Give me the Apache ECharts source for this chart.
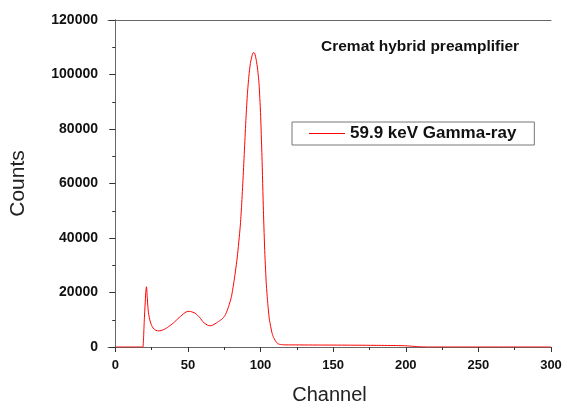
<!DOCTYPE html>
<html>
<head>
<meta charset="utf-8">
<script src="https://cdn.jsdelivr.net/npm/echarts@6/dist/echarts.min.js"></script>
<style>
  html, body { margin: 0; padding: 0; background: #fff; }
  #chart { width: 562px; height: 403px; }
</style>
</head>
<body>
<div id="chart"></div>
<script>
const channels = [0, 18, 19, 20, 21, 21.5, 22, 22.5, 23, 24, 25, 26, 28, 30, 33, 36, 40, 44, 48, 50, 52, 55, 58, 61, 64, 66, 68, 71, 74, 76, 78, 80, 82, 84, 86, 87, 88, 89, 90, 91, 92, 93, 94, 95, 96, 97, 98, 99, 100, 101, 102, 103, 104, 105, 106, 107, 108, 109, 110, 111, 112, 113, 116, 120, 140, 160, 180, 195, 200, 205, 210, 215, 300]
const counts = [0, 0, 0, 10000, 20000, 22100, 18500, 14500, 12000, 9500, 8000, 7000, 6100, 5900, 6300, 7200, 8800, 10800, 12600, 13100, 13000, 12400, 10900, 8900, 7900, 7800, 8300, 9300, 10500, 12000, 14800, 18500, 25000, 33000, 44000, 52000, 62000, 73000, 84000, 93000, 99500, 104000, 106500, 108000, 107800, 105500, 102000, 96500, 86000, 70000, 50000, 34000, 23000, 16000, 10500, 7500, 5000, 3500, 2500, 1700, 1200, 1000, 800, 780, 720, 680, 600, 520, 450, 250, 80, 0, 0]
const xMajor = [0, 50, 100, 150, 200, 250, 300]
const xMinor = [25, 75, 125, 175, 225, 275]
const seriesName = '59.9 keV Gamma-ray'
const note = 'Cremat hybrid preamplifier'

const font = 'Liberation Sans, Arial, sans-serif'
const axisGray = '#666'

const chart = echarts.init(document.getElementById('chart'))
chart.setOption({
  animation: false,
  textStyle: { fontFamily: font },
  grid: { left: 108, top: 20, right: 11, bottom: 56, outerBoundsMode: 'none', containLabel: false },
  title: {
    text: note,
    left: 321, top: 39,
    padding: 0,
    textStyle: { fontSize: 15.5, fontWeight: 'bold', color: '#111', fontFamily: font }
  },
  legend: {
    data: [seriesName],
    left: 292, top: 122,
    padding: [3, 18, 3, 17],
    borderColor: '#777', borderWidth: 1,
    icon: 'rect', itemWidth: 36, itemHeight: 1,
    textStyle: { fontSize: 17, fontWeight: 'bold', color: '#111', fontFamily: font }
  },
  xAxis: [
    {
      type: 'value', min: -5, max: 300,
      name: 'Channel', nameLocation: 'middle', nameGap: 38,
      nameTextStyle: { fontSize: 20, color: '#222', fontFamily: font },
      axisLine: { lineStyle: { color: axisGray, width: 1 } },
      axisTick: { show: true, length: 5, customValues: xMajor, lineStyle: { color: '#333' } },
      axisLabel: { customValues: xMajor, margin: 12, fontSize: 13, fontWeight: 'bold', color: '#111' },
      splitLine: { show: false }
    },
    {
      type: 'value', min: -5, max: 300, position: 'bottom',
      axisLine: { show: false },
      axisTick: { show: true, length: 3, customValues: xMinor, lineStyle: { color: '#333' } },
      axisLabel: { show: false, customValues: xMinor },
      splitLine: { show: false }
    },
    {
      type: 'value', min: -5, max: 300, position: 'top',
      axisLine: { lineStyle: { color: axisGray, width: 1 } },
      axisTick: { show: false }, axisLabel: { show: false }, splitLine: { show: false }
    }
  ],
  yAxis: [
    {
      type: 'value', min: 0, max: 120000, interval: 20000,
      name: 'Counts', nameLocation: 'middle', nameGap: 79,
      nameTextStyle: { fontSize: 21, color: '#222', fontFamily: font },
      axisLine: { show: true, lineStyle: { color: axisGray, width: 1 } },
      axisTick: { show: true, length: 6, lineStyle: { color: '#333' } },
      minorTick: { show: true, splitNumber: 2, length: 3, lineStyle: { color: '#333' } },
      axisLabel: { margin: 10, fontSize: 14, fontWeight: 'bold', color: '#111', formatter: v => String(v) },
      splitLine: { show: false }
    },
    {
      type: 'value', min: 0, max: 120000, position: 'right',
      axisLine: { show: true, lineStyle: { color: axisGray, width: 1 } },
      axisTick: { show: false }, axisLabel: { show: false }, splitLine: { show: false }
    }
  ],
  series: [
    {
      name: seriesName,
      type: 'line',
      xAxisIndex: 0, yAxisIndex: 0,
      data: channels.map((c, i) => [c, counts[i]]),
      showSymbol: false, symbol: 'none',
      smooth: 0.2,
      lineStyle: { color: '#f00', width: 1 },
      itemStyle: { color: '#f00' }
    }
  ]
})
</script>
</body>
</html>
